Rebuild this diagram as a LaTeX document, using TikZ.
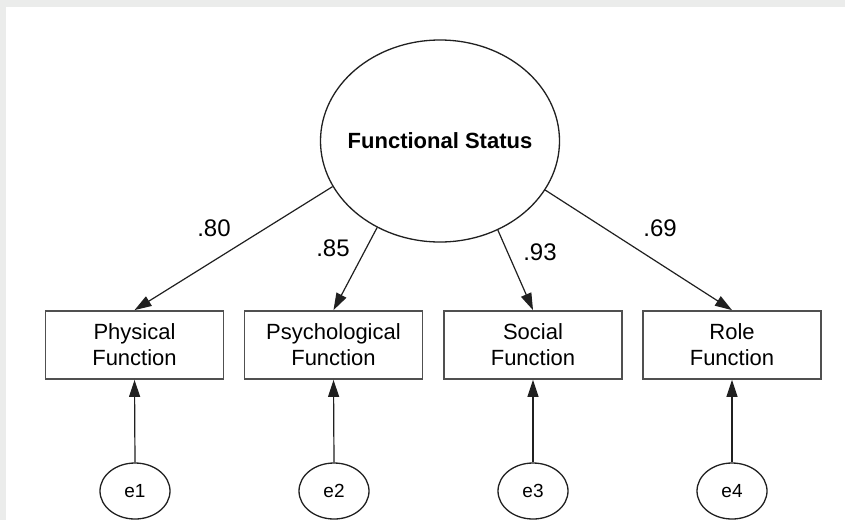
\documentclass[tikz,border=0pt]{standalone}
\usepackage{fontspec}
\setmainfont{Liberation Sans}
\usetikzlibrary{shapes.geometric,arrows.meta}

\definecolor{framegray}{HTML}{EBECEB}
\definecolor{boxline}{HTML}{505050}
\definecolor{inkline}{HTML}{202020}

\tikzset{
  latent/.style={ellipse, draw=inkline, line width=1.3pt, fill=white,
    minimum width=239pt, minimum height=202pt, inner sep=0pt},
  latenttext/.style={font=\bfseries\fontsize{22}{26}\selectfont, inner sep=0pt},
  observed/.style={rectangle, draw=boxline, line width=1.8pt, fill=white,
    minimum width=178pt, minimum height=68pt, inner sep=0pt, align=center,
    font=\fontsize{22}{26}\selectfont},
  errterm/.style={ellipse, draw=inkline, line width=1.3pt, fill=white,
    minimum width=70pt, minimum height=56pt, inner sep=0pt,
    font=\fontsize{19}{22}\selectfont},
  loading/.style={font=\fontsize{24}{28}\selectfont, inner sep=0pt},
  path/.style={draw=inkline, line width=1.2pt,
    -{Triangle[length=17pt,width=11pt]}}
}

\begin{document}
\begin{tikzpicture}[x=1pt,y=-1pt]
  % canvas with a light grey margin along the top and left edges
  \useasboundingbox (0,0) rectangle (845,520);
  \fill[framegray] (0,0) rectangle (845,520);
  \fill[white] (6,7) rectangle (845,520);

  % latent factor (label set separately so it does not widen the ellipse)
  \node[latent] (fs) at (440,141) {};
  \node[latenttext] (fstext) at (fs.center) {Functional Status};

  % indicators
  \node[observed] (p1) at (134.5,345) {Physical\\Function};
  \node[observed] (p2) at (333.5,345) {Psychological\\Function};
  \node[observed] (p3) at (533,345) {Social\\Function};
  \node[observed] (p4) at (732,345) {Role\\Function};

  % error terms
  \node[errterm] (e1) at (135,491) {e1};
  \node[errterm] (e2) at (334,491) {e2};
  \node[errterm] (e3) at (533,491) {e3};
  \node[errterm] (e4) at (732,491) {e4};

  % factor loadings
  \draw[path] (fs.203.7) -- (p1.north);
  \draw[path] (fs.234) -- (p2.north);
  \draw[path] (fs.303) -- (p3.north);
  \draw[path] (fs.335.5) -- (p4.north);

  \node[loading] (l1) at (214,228) {.80};
  \node[loading] (l2) at (333,248) {.85};
  \node[loading] (l3) at (540,252) {.93};
  \node[loading] (l4) at (660,228) {.69};

  % residual paths
  \draw[path] (e1.north) -- (p1.south);
  \draw[path] (e2.north) -- (p2.south);
  \draw[path] (e3.north) -- (p3.south);
  \draw[path] (e4.north) -- (p4.south);
\end{tikzpicture}
\end{document}
